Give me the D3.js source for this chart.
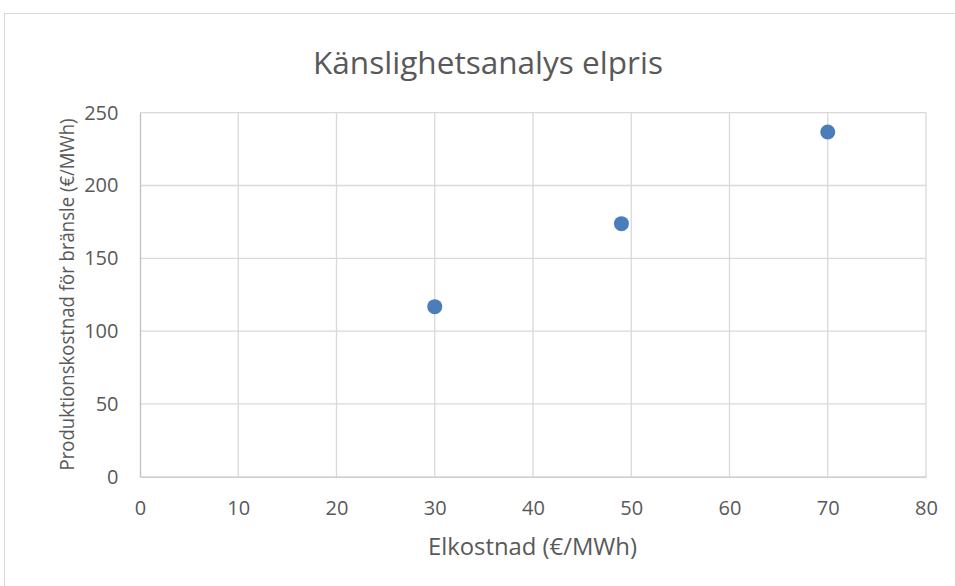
<!DOCTYPE html>
<meta charset="utf-8">
<style>
  body { margin: 0; background: #fff; }
  text { font-family: "Open Sans", "Noto Sans", sans-serif; fill: #595959; }
</style>
<body>
<script src="https://cdn.jsdelivr.net/npm/d3@7/dist/d3.min.js"></script>
<script>
// data
var elkostnad = [30, 49, 70];
var prodkostnad = [116.8, 173.8, 236.7];
var xTicks = [0, 10, 20, 30, 40, 50, 60, 70, 80];
var yTicks = [0, 50, 100, 150, 200, 250];

var W = 955, H = 586;
var margin = {top: 112.7, right: 29, bottom: 109.3, left: 140},
  width = W - margin.left - margin.right,
  height = H - margin.top - margin.bottom;

var svg = d3.select("body").append("svg")
    .attr("width", W)
    .attr("height", H);

// chart frame
svg.append("rect")
    .attr("x", 4.5).attr("y", 13.5)
    .attr("width", W + 10).attr("height", H + 10)
    .attr("fill", "#fff")
    .attr("stroke", "#d9d9d9");

svg.append("text")
    .attr("x", 488).attr("y", 73.5)
    .attr("text-anchor", "middle")
    .attr("textLength", 350).attr("lengthAdjust", "spacingAndGlyphs")
    .style("font-size", "31px")
    .text("Känslighetsanalys elpris");

var g = svg.append("g")
    .attr("transform", "translate(" + margin.left + "," + margin.top + ")");

var x = d3.scaleLinear().domain([0, 80]).range([0, width]);
var y = d3.scaleLinear().domain([0, 250]).range([height, 0]);

// gridlines
g.append("g").selectAll("line")
    .data(yTicks.slice(1))
    .enter().append("line")
    .attr("x1", 0).attr("x2", width)
    .attr("y1", function(d) { return y(d); })
    .attr("y2", function(d) { return y(d); })
    .attr("stroke", "#d9d9d9").attr("stroke-width", 1.3);

g.append("g").selectAll("line")
    .data(xTicks.slice(1))
    .enter().append("line")
    .attr("y1", 0).attr("y2", height)
    .attr("x1", function(d) { return x(d); })
    .attr("x2", function(d) { return x(d); })
    .attr("stroke", "#d9d9d9").attr("stroke-width", 1.3);

// axes
var xAxis = g.append("g")
    .attr("transform", "translate(0," + height + ")")
    .call(d3.axisBottom(x).tickValues(xTicks).tickSize(0).tickPadding(24.5));
var yAxis = g.append("g")
    .call(d3.axisLeft(y).tickValues(yTicks).tickSize(0).tickPadding(21.5));

[xAxis, yAxis].forEach(function(a) {
  a.select(".domain").attr("stroke", "#bfbfbf").attr("stroke-width", 1.3);
  a.selectAll("text").style("font-size", "20px").attr("fill", "#595959")
    .style("font-family", "'Open Sans', sans-serif");
});

// axis titles
svg.append("text")
    .attr("x", 532.5).attr("y", 554.5)
    .attr("text-anchor", "middle")
    .attr("textLength", 209).attr("lengthAdjust", "spacingAndGlyphs")
    .style("font-size", "23px")
    .text("Elkostnad (€/MWh)");

svg.append("text")
    .attr("transform", "translate(74,294.5) rotate(-90)")
    .attr("text-anchor", "middle")
    .attr("textLength", 352).attr("lengthAdjust", "spacingAndGlyphs")
    .style("font-size", "20.5px")
    .text("Produktionskostnad för bränsle (€/MWh)");

// points
g.selectAll("circle")
    .data(elkostnad)
    .enter().append("circle")
    .attr("cx", function(d) { return x(d); })
    .attr("cy", function(d, i) { return y(prodkostnad[i]); })
    .attr("r", 7.5)
    .attr("fill", "#4a7ebb");
</script>
</body>
